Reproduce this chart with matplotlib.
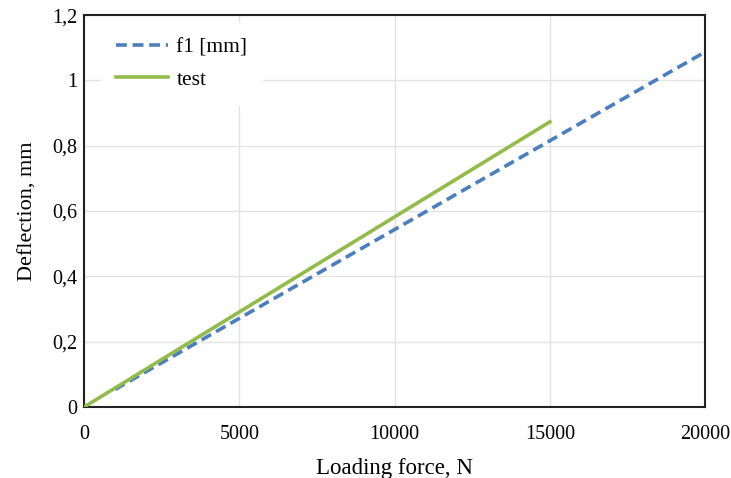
import matplotlib
matplotlib.use('Agg')
import matplotlib.pyplot as plt
from matplotlib.ticker import FuncFormatter

plt.rcParams['font.family'] = ['Liberation Serif', 'DejaVu Serif']

# data
f1_force = [1000, 20000]
f1_defl = [0.054, 1.087]
test_force = [0, 15000]
test_defl = [0, 0.873]

fig = plt.figure(figsize=(7.31, 4.78), dpi=100)
ax = fig.add_axes([0.115, 0.1485, 0.8495, 0.82])

ax.plot(f1_force, f1_defl, color='#4a7ebf', lw=2.6, ls=(0, (3, 1.6)), label='f1 [mm]', zorder=3)
ax.plot(test_force, test_defl, color='#92bb4a', lw=2.6, label='test', zorder=3)

ax.set_xlim(0, 20000)
ax.set_ylim(0, 1.2)
ax.set_xticks([0, 5000, 10000, 15000, 20000])
ax.set_yticks([0, 0.2, 0.4, 0.6, 0.8, 1.0, 1.2])
ax.yaxis.set_major_formatter(FuncFormatter(lambda v, p: ('%g' % round(v, 1)).replace('.', ',')))
ax.grid(color='#e3e3e3', lw=1)
ax.set_axisbelow(True)
ax.tick_params(length=0, labelsize=14.5)
ax.tick_params(axis='x', pad=13)
ax.tick_params(axis='y', pad=5)
for s in ax.spines.values():
    s.set_color('#222222')
    s.set_linewidth(1.5)

ax.set_xlabel('Loading force, N', fontsize=16.5, labelpad=10)
ax.set_ylabel('Deflection, mm', fontsize=16, labelpad=10)

leg = ax.legend(loc='upper left', bbox_to_anchor=(0.01, 1.008), fontsize=15.5, frameon=True,
                fancybox=False, edgecolor='white', framealpha=1, handlelength=2.4,
                handletextpad=0.4, borderpad=0.7, labelspacing=0.55)

fig.savefig('out.png', dpi=100)
